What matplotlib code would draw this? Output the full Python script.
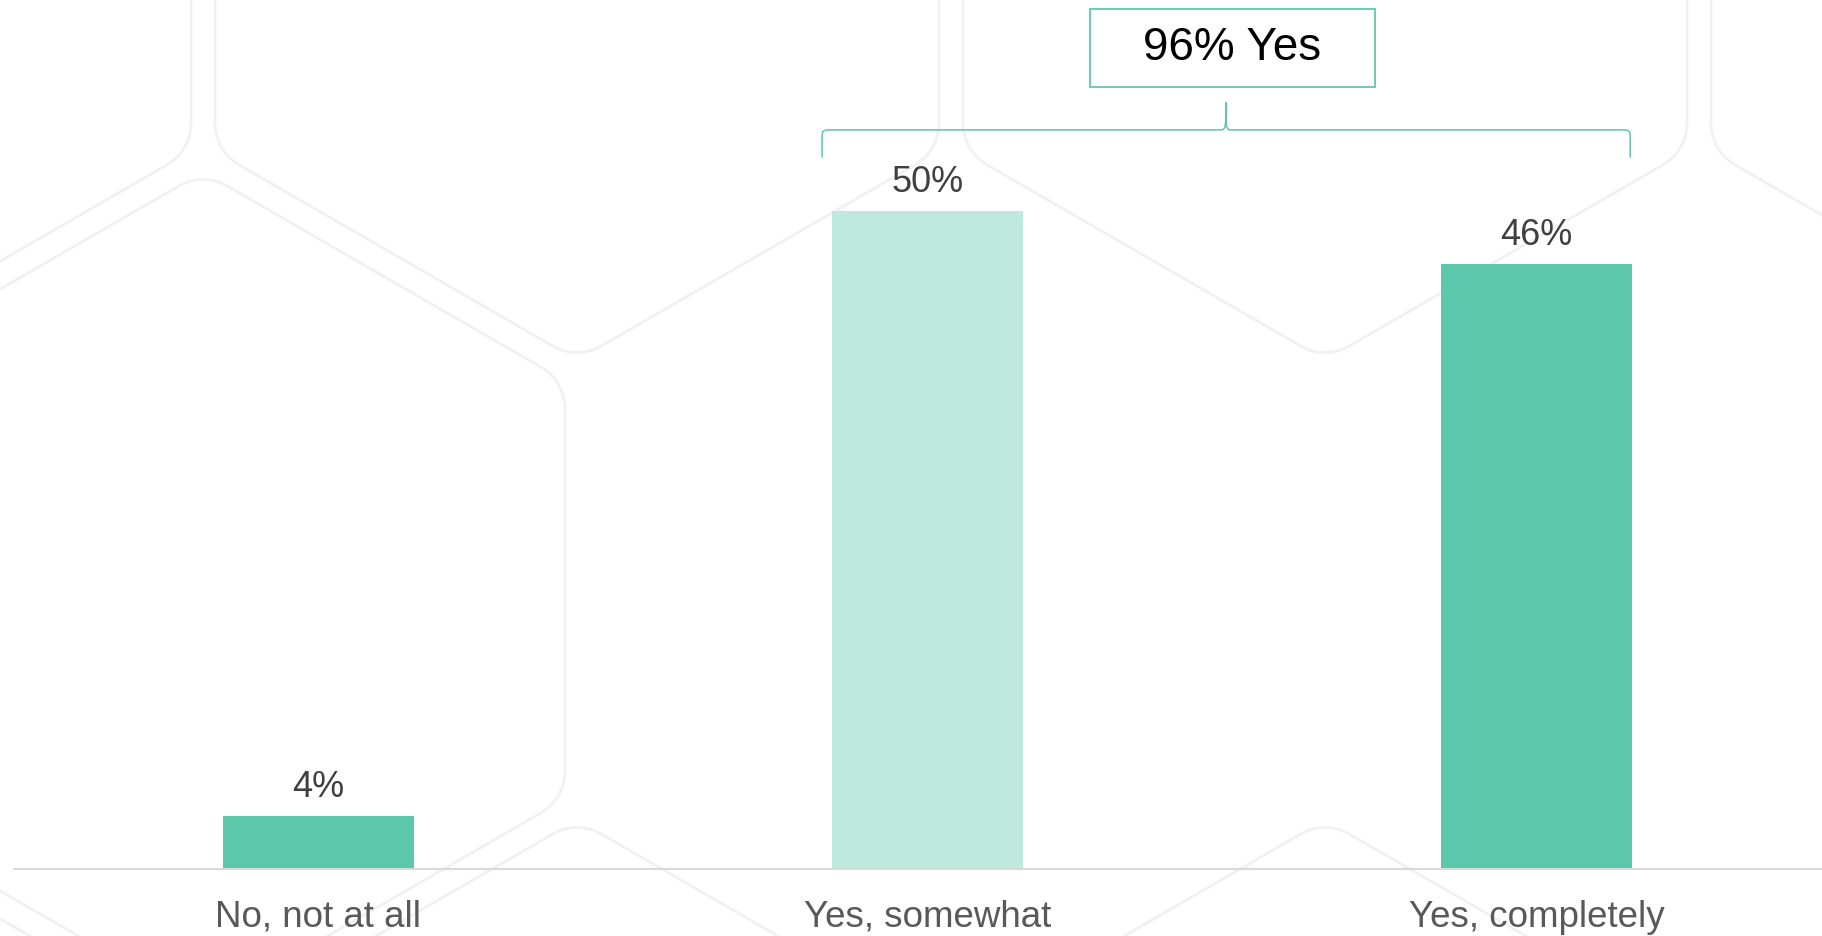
import matplotlib.pyplot as plt
import numpy as np
from matplotlib.patches import Polygon, Rectangle, PathPatch
from matplotlib.path import Path

plt.rcParams['font.family'] = ['Liberation Sans', 'DejaVu Sans']

categories = ["No, not at all", "Yes, somewhat", "Yes, completely"]
values = [4, 50, 46]
bar_colors = ["#5cc8a9", "#bfe9dc", "#5cc8a9"]
summary_label = "96% Yes"

W, H = 1822, 936


def rounded_hexagon(cx, cy, R, r, n=12):
    # pointy-top hexagon with rounded corners, in pixel space
    inner = R - r / np.sin(np.radians(60))
    pts = []
    for k in range(6):
        a = np.radians(90 + 60 * k)
        ax_, ay_ = cx + inner * np.cos(a), cy + inner * np.sin(a)
        for t in np.linspace(a - np.radians(30), a + np.radians(30), n):
            pts.append((ax_ + r * np.cos(t), ay_ + r * np.sin(t)))
    return np.array(pts)


fig = plt.figure(figsize=(W / 100, H / 100), dpi=100)

# honeycomb backdrop
bg = fig.add_axes([0, 0, 1, 1], zorder=0)
bg.set_xlim(0, W)
bg.set_ylim(H, 0)
bg.axis('off')
hex_R, hex_r = 418, 48
hex_centers = [(-171, -58), (577, -58), (1325, -58), (2073, -58),
               (203, 590),
               (-171, 1238), (577, 1238), (1325, 1238), (2073, 1238)]
for cx, cy in hex_centers:
    bg.add_patch(Polygon(rounded_hexagon(cx, cy, hex_R, hex_r), closed=True,
                         fill=False, edgecolor="#f1f1f1", lw=2.0))

ax = fig.add_axes([14 / W, 67 / H, 1 - 14 / W, 869 / H], zorder=1)
ax.patch.set_alpha(0)
x = np.arange(len(categories))
bars = ax.bar(x, values, width=0.314, color=bar_colors, zorder=2)
ax.set_xlim(-0.5, 2.469)
ax.set_ylim(0, 66.08)

for spine in ['top', 'right', 'left']:
    ax.spines[spine].set_visible(False)
ax.spines['bottom'].set_color('#d9d9d9')
ax.spines['bottom'].set_linewidth(1.5)
ax.set_yticks([])
ax.set_xticks([])

for xi, v in zip(x, values):
    ax.annotate(f"{v}%", (xi, v), xytext=(0, 8), textcoords='offset points',
                ha='center', va='bottom', fontsize=26, color='#404040')
for xi, lab in zip(x, categories):
    ax.text(xi, -4.41, lab, ha='center', va='baseline', fontsize=26.5,
            color='#595959', clip_on=False)

# curly brace over the two "yes" bars
x0, x1, xm = 0.827, 2.154, 1.49
yb, ye, yt = 56.2, 54.1, 58.3
hx, hy = 0.0164, 0.76
tx = 0.011
verts = [(x0, ye), (x0, yb - hy),
         (x0, yb), (x0, yb), (x0 + hx, yb),
         (xm - tx, yb),
         (xm, yb), (xm, yb), (xm, yt),
         (xm, yb), (xm, yb), (xm + tx, yb),
         (x1 - hx, yb),
         (x1, yb), (x1, yb), (x1, yb - hy),
         (x1, ye)]
codes = [Path.MOVETO, Path.LINETO,
         Path.CURVE4, Path.CURVE4, Path.CURVE4,
         Path.LINETO,
         Path.CURVE4, Path.CURVE4, Path.CURVE4,
         Path.CURVE4, Path.CURVE4, Path.CURVE4,
         Path.LINETO,
         Path.CURVE4, Path.CURVE4, Path.CURVE4,
         Path.LINETO]
ax.add_patch(PathPatch(Path(verts, codes), fill=False, edgecolor='#5cc8a9',
                       lw=1.1, clip_on=False))

ax.add_patch(Rectangle((1.267, 59.5), 0.468, 5.9, fill=True, facecolor='white',
                       edgecolor='#5cc8a9', lw=1.3, clip_on=False, zorder=3))
ax.text(1.501, 62.45, summary_label, ha='center', va='center', fontsize=33,
        color='black', zorder=4)

fig.savefig("out.png", dpi=100)
